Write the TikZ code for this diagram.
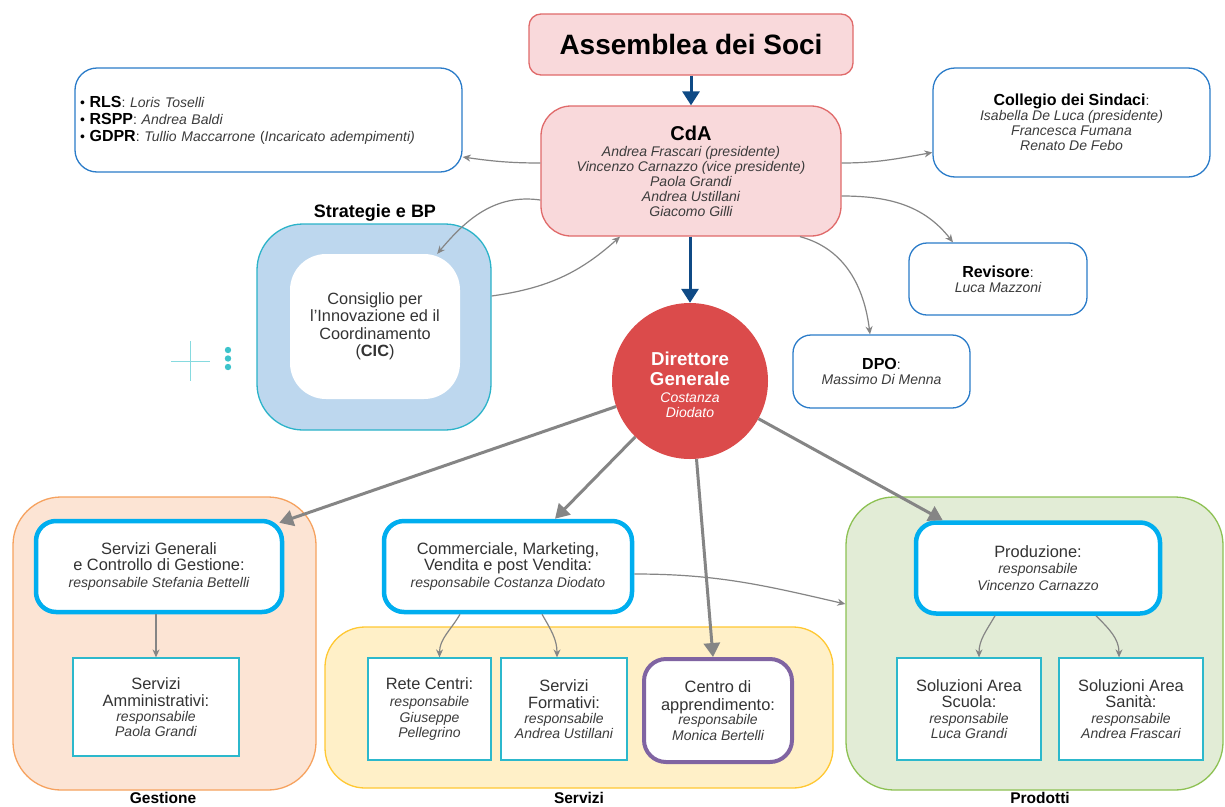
\documentclass[tikz,border=0pt]{standalone}
\usepackage{fontspec}
\setmainfont{Liberation Sans}
\usetikzlibrary{arrows.meta}
\definecolor{pinkF}{HTML}{F9D9DB}
\definecolor{pinkD}{HTML}{E06A6A}
\definecolor{navy}{HTML}{0F4A85}
\definecolor{boxblue}{HTML}{2B7CC9}
\definecolor{dgred}{HTML}{DB4B4B}
\definecolor{stratF}{HTML}{BDD7EE}
\definecolor{stratD}{HTML}{2BB3C9}
\definecolor{cyanB}{HTML}{00AEEF}
\definecolor{tealB}{HTML}{2CB8CC}
\definecolor{purpleB}{HTML}{8064A2}
\definecolor{peachF}{HTML}{FCE4D4}
\definecolor{peachD}{HTML}{F6A25F}
\definecolor{yellowF}{HTML}{FFF0C8}
\definecolor{yellowD}{HTML}{FFC832}
\definecolor{greenF}{HTML}{E2ECD6}
\definecolor{greenD}{HTML}{8DC153}
\definecolor{arrg}{HTML}{858585}
\definecolor{textc}{HTML}{333333}
\definecolor{namec}{HTML}{3C3C3C}
\definecolor{crossc}{HTML}{86DADF}
\definecolor{dotc}{HTML}{3CC3CB}
\newcommand{\hd}[1]{{\fontsize{16.4}{17}\selectfont #1}}
\newcommand{\bh}[1]{{\fontsize{16}{17}\selectfont\bfseries\color{black}#1}}
\newcommand{\nmx}[1]{{\itshape\color{namec}#1}}
\begin{document}
\begin{tikzpicture}[x=1pt,y=-1pt,
  grp/.style={line width=1.3pt, rounded corners=48pt, inner sep=0pt},
  lbl/.style={font=\fontsize{15.5}{17}\selectfont\bfseries, text=black, inner sep=0pt},
  bluebox/.style={draw=boxblue, line width=1.3pt, fill=white, rounded corners=22pt, align=center, text=textc, font=\fontsize{14}{15}\selectfont, inner sep=2pt},
  headbox/.style={draw=cyanB, line width=4.5pt, fill=white, rounded corners=20pt, align=center, text=textc, font=\fontsize{14}{16.5}\selectfont, minimum width=246pt, minimum height=91pt, inner sep=2pt},
  subbox/.style={draw=tealB, line width=1.3pt, fill=white, align=center, text=textc, font=\fontsize{14}{15.5}\selectfont, minimum height=102pt, inner sep=2pt},
  tarr/.style={draw=arrg, line width=1.2pt, -{Stealth[length=8pt,width=7pt]}},
  barr/.style={draw=arrg, line width=3pt, -{Triangle[length=14pt,width=16pt]}},
  narr/.style={draw=navy, line width=3pt, -{Triangle[length=14pt,width=17pt]}}
]
\useasboundingbox (0,0) rectangle (1225,806);
\fill[white] (0,0) rectangle (1225,806);

% group backgrounds
\node[grp, draw=peachD, fill=peachF, minimum width=303pt, minimum height=293pt] (gestg) at (164.5,643.5) {};
\node[grp, draw=yellowD, fill=yellowF, minimum width=508pt, minimum height=161pt, rounded corners=40pt] (servg) at (579,707.5) {};
\node[grp, draw=greenD, fill=greenF, minimum width=377pt, minimum height=293pt] (prodg) at (1034.5,643.5) {};
\node[lbl] (gestl) at (163,797.5) {Gestione};
\node[lbl] (servl) at (579,797.5) {Servizi};
\node[lbl] (prodl) at (1040,797.5) {Prodotti};

% strategy block
\node[grp, draw=stratD, fill=stratF, minimum width=234pt, minimum height=206pt, rounded corners=46pt] (strat) at (374,327) {};
\node[fill=white, rounded corners=36pt, minimum width=170pt, minimum height=145pt, align=center, text=textc, font=\fontsize{16.3}{17.5}\selectfont, inner sep=0pt] (cic) at (375,326.5)
  {Consiglio per\\l'Innovazione ed il\\Coordinamento\\(\textbf{CIC})};
\node[lbl, font=\fontsize{18}{19}\selectfont\bfseries] (stratl) at (375,213) {Strategie e BP};

% crosshair and dots
\draw[crossc, line width=1pt] (171,361) -- (210,361) (190,341) -- (190,381);
\fill[dotc] (228,350) circle (3.2) (228,358.5) circle (3.2) (228,367) circle (3.2);

% top
\node[draw=pinkD, fill=pinkF, line width=1.3pt, rounded corners=12pt, minimum width=324pt, minimum height=61pt, font=\fontsize{28}{30}\selectfont\bfseries] (ass) at (691,44.5) {Assemblea dei Soci};
\node[draw=pinkD, fill=pinkF, line width=1.3pt, rounded corners=30pt, minimum width=300pt, minimum height=130pt, align=center, font=\fontsize{14}{15}\selectfont, text=namec] (cda) at (691,171)
  {{\fontsize{20}{22}\selectfont\bfseries\color{black}CdA}\\[1pt]
   \nmx{Andrea Frascari (presidente)}\\ \nmx{Vincenzo Carnazzo (vice presidente)}\\ \nmx{Paola Grandi}\\ \nmx{Andrea Ustillani}\\ \nmx{Giacomo Gilli}};

\node[bluebox, minimum width=387pt, minimum height=104pt, text width=377pt, align=left, inner sep=5pt, font=\fontsize{14}{17}\selectfont] (rls) at (268.5,120)
  {{\color{black}•} \bh{RLS}: \nmx{Loris Toselli}\\
   {\color{black}•} \bh{RSPP}: \nmx{Andrea Baldi}\\
   {\color{black}•} \bh{GDPR}: \nmx{Tullio Maccarrone} (\nmx{Incaricato adempimenti)}};
\node[bluebox, minimum width=277pt, minimum height=109pt] (col) at (1071.5,122.5)
  {\bh{Collegio dei Sindaci}:\\ \nmx{Isabella De Luca (presidente)}\\ \nmx{Francesca Fumana}\\ \nmx{Renato De Febo}};
\node[bluebox, minimum width=178pt, minimum height=72pt, rounded corners=18pt] (rev) at (998,279)
  {\bh{Revisore}:\\ \nmx{Luca Mazzoni}};
\node[bluebox, minimum width=177pt, minimum height=73pt, rounded corners=18pt] (dpo) at (881.5,371.5)
  {\bh{DPO}:\\ \nmx{Massimo Di Menna}};

\node[circle, fill=dgred, minimum size=156pt, inner sep=0pt] (dg) at (690,381) {};
\node[align=center, text=white, font=\fontsize{14}{16}\selectfont, inner sep=0pt] (dgt) at (690,385)
  {{\fontsize{18.7}{19}\selectfont\bfseries Direttore}\\[4pt]{\fontsize{18.7}{19}\selectfont\bfseries Generale}\\[1pt] \itshape Costanza\\[-1pt] \itshape Diodato};

% head boxes
\node[headbox] (sg) at (159,566.5)
  {\hd{Servizi Generali}\\ \hd{e Controllo di Gestione:}\\ \nmx{responsabile Stefania Bettelli}};
\node[headbox, minimum width=248pt] (com) at (508,566.5)
  {\hd{Commerciale, Marketing,}\\ \hd{Vendita e post Vendita:}\\ \nmx{responsabile Costanza Diodato}};
\node[headbox, minimum width=244pt] (prod) at (1038,568)
  {\hd{Produzione:}\\ \nmx{responsabile}\\ \nmx{Vincenzo Carnazzo}};

% sub boxes
\node[subbox, minimum width=166pt, minimum height=98pt] (sa) at (156,707)
  {\hd{Servizi}\\[2pt] \hd{Amministrativi:}\\[-1pt] \nmx{responsabile}\\ \nmx{Paola Grandi}};
\node[subbox, minimum width=123pt] (rc) at (429.5,709)
  {\hd{Rete Centri:}\\[2pt] \nmx{responsabile}\\ \nmx{Giuseppe}\\ \nmx{Pellegrino}};
\node[subbox, minimum width=126pt] (sf) at (564,709)
  {\hd{Servizi}\\[2pt] \hd{Formativi:}\\[-1pt] \nmx{responsabile}\\ \nmx{Andrea Ustillani}};
\node[subbox, draw=purpleB, line width=4pt, rounded corners=22pt, minimum width=148pt, minimum height=103pt] (cen) at (718,710.5)
  {\hd{Centro di}\\[2pt] \hd{apprendimento:}\\[-1pt] \nmx{responsabile}\\ \nmx{Monica Bertelli}};
\node[subbox, minimum width=144pt] (ss) at (969,709)
  {\hd{Soluzioni Area}\\[1pt] \hd{Scuola:}\\ \nmx{responsabile}\\ \nmx{Luca Grandi}};
\node[subbox, minimum width=144pt] (sn) at (1131,709)
  {\hd{Soluzioni Area}\\[1pt] \hd{Sanità:}\\ \nmx{responsabile}\\ \nmx{Andrea Frascari}};

% navy arrows
\draw[narr] (ass.south) -- (cda.north);
\draw[narr] ([xshift=-1pt]cda.south) -- (dg.north);

% thin arrows from CdA
\draw[tarr] ([yshift=8pt]cda.west) to[out=180,in=-8] ([yshift=-37pt]rls.east);
\draw[tarr] ([yshift=8pt]cda.east) to[out=0,in=190] ([yshift=-30pt]col.west);
\draw[tarr] ([yshift=-25pt]cda.east) to[out=0,in=128] ([xshift=-45pt]rev.north);
\draw[tarr] ([xshift=109pt]cda.south) to[out=-15,in=97] ([xshift=-11.5pt]dpo.north);
\draw[tarr] ([yshift=-29pt]cda.west) to[out=172,in=50] ([xshift=-23pt]cic.north east);
\draw[tarr] ([yshift=31pt]strat.east) to[out=8,in=-138] ([xshift=-71pt]cda.south);

% DG arrows
\draw[barr] (dg) -- ([shift={(-5pt,-4pt)}]sg.north east);
\draw[barr] (dg) -- ([xshift=47pt]com.north);
\draw[barr] (dg) -- ([xshift=-5pt]cen.north);
\draw[barr] (dg) -- ([xshift=29pt]prod.north west);

% lower thin arrows
\draw[tarr] (sa.north |- sg.south) -- (sa.north);
\draw[tarr] ([xshift=-48pt]com.south) to[out=-120,in=90] ([xshift=10pt]rc.north);
\draw[tarr] ([xshift=34pt]com.south) to[out=-60,in=90] ([xshift=-7pt]sf.north);
\draw[tarr] ([yshift=-7.5pt]com.east) to[out=0,in=167] ([yshift=39.5pt]prodg.west);
\draw[tarr] ([xshift=-43pt]prod.south) to[out=-120,in=90] ([xshift=10pt]ss.north);
\draw[tarr] ([xshift=58pt]prod.south) to[out=-45,in=90] ([xshift=-12pt]sn.north);
\end{tikzpicture}
\end{document}
